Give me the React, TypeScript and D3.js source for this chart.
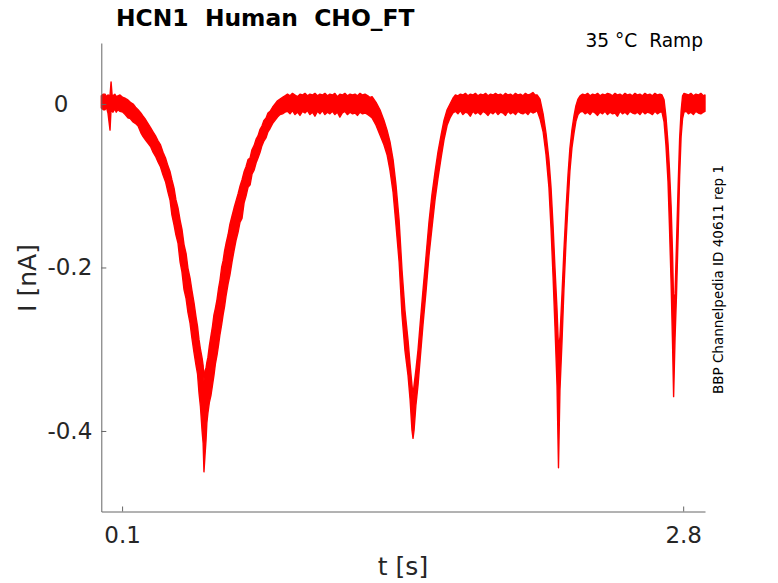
import { useEffect, useRef } from "react"
import * as d3 from "d3"

// each sample: [time (s), upper edge of noisy trace (nA), lower edge (nA)]
type Sample = [number, number, number]

const restStart: Sample[] = [
  [0.0, 0.01, -0.005], [0.01, 0.012, -0.007], [0.018, 0.012, -0.007], [0.025, 0.009, -0.004],
  [0.032, 0.011, -0.011], [0.042, 0.01, -0.032], [0.047, 0.027, -0.006], [0.052, 0.011, -0.009],
  [0.056, 0.01, -0.01], [0.065, 0.012, -0.006], [0.072, 0.009, -0.01], [0.08, 0.01, -0.007],
  [0.09, 0.011, -0.009], [0.104, 0.008, -0.01], [0.115, 0.007, -0.013],
]

const dip1: Sample[] = [
  [0.128, 0.005, -0.017], [0.14, 0.002, -0.018], [0.153, 0.0, -0.022], [0.165, -0.004, -0.024],
  [0.177, -0.007, -0.027], [0.19, -0.011, -0.035], [0.201, -0.015, -0.04], [0.213, -0.019, -0.044],
  [0.225, -0.024, -0.048], [0.237, -0.029, -0.052], [0.249, -0.034, -0.059], [0.261, -0.039, -0.064],
  [0.273, -0.045, -0.071], [0.285, -0.05, -0.077], [0.297, -0.059, -0.087], [0.309, -0.066, -0.095],
  [0.321, -0.076, -0.108], [0.331, -0.083, -0.118], [0.34, -0.093, -0.136], [0.35, -0.103, -0.148],
  [0.359, -0.117, -0.16], [0.369, -0.127, -0.17], [0.379, -0.142, -0.193], [0.388, -0.153, -0.205],
  [0.398, -0.172, -0.227], [0.408, -0.183, -0.238], [0.417, -0.201, -0.255], [0.427, -0.213, -0.268],
  [0.436, -0.228, -0.286], [0.446, -0.243, -0.304], [0.456, -0.261, -0.32], [0.463, -0.272, -0.33],
  [0.47, -0.288, -0.353], [0.477, -0.3, -0.37], [0.485, -0.311, -0.4], [0.49, -0.32, -0.415],
  [0.494, -0.339, -0.45], [0.499, -0.326, -0.43], [0.504, -0.323, -0.411], [0.508, -0.316, -0.39],
  [0.513, -0.31, -0.378], [0.52, -0.296, -0.365], [0.528, -0.283, -0.356], [0.535, -0.272, -0.344],
  [0.542, -0.258, -0.332], [0.549, -0.25, -0.318], [0.557, -0.239, -0.307], [0.564, -0.226, -0.295],
  [0.571, -0.216, -0.282], [0.579, -0.2, -0.27], [0.586, -0.192, -0.258], [0.593, -0.18, -0.248],
  [0.6, -0.171, -0.235], [0.61, -0.16, -0.22], [0.619, -0.147, -0.209], [0.629, -0.137, -0.193],
  [0.639, -0.127, -0.179], [0.648, -0.119, -0.167], [0.658, -0.11, -0.157], [0.667, -0.101, -0.145],
  [0.677, -0.093, -0.14], [0.687, -0.083, -0.121], [0.696, -0.077, -0.113], [0.706, -0.068, -0.102],
  [0.716, -0.066, -0.099], [0.725, -0.056, -0.086], [0.735, -0.051, -0.081], [0.745, -0.043, -0.072],
  [0.754, -0.039, -0.066], [0.764, -0.031, -0.059], [0.773, -0.027, -0.051], [0.783, -0.02, -0.045],
  [0.793, -0.017, -0.041], [0.802, -0.011, -0.034], [0.812, -0.009, -0.03], [0.824, -0.004, -0.024],
  [0.836, 0.0, -0.02], [0.848, 0.004, -0.016], [0.86, 0.006, -0.013], [0.872, 0.008, -0.012],
  [0.884, 0.01, -0.01],
]

const rest1: Sample[] = [
  [0.896, 0.012, -0.009], [0.908, 0.01, -0.012], [0.92, 0.013, -0.008], [0.932, 0.011, -0.013],
  [0.944, 0.009, -0.01], [0.956, 0.012, -0.014], [0.968, 0.011, -0.009], [0.98, 0.013, -0.011],
  [0.992, 0.01, -0.008], [1.004, 0.012, -0.013], [1.016, 0.011, -0.01], [1.028, 0.013, -0.015],
  [1.04, 0.01, -0.009], [1.052, 0.012, -0.012], [1.064, 0.011, -0.008], [1.076, 0.013, -0.013],
  [1.088, 0.01, -0.01], [1.1, 0.012, -0.012], [1.112, 0.011, -0.009], [1.124, 0.013, -0.013],
  [1.136, 0.009, -0.01], [1.148, 0.012, -0.016], [1.16, 0.011, -0.011], [1.172, 0.013, -0.009],
  [1.184, 0.01, -0.013], [1.197, 0.012, -0.01], [1.209, 0.011, -0.012], [1.221, 0.012, -0.011],
  [1.233, 0.01, -0.014], [1.245, 0.013, -0.01], [1.257, 0.011, -0.012], [1.269, 0.012, -0.011],
  [1.283, 0.01, -0.013], [1.293, 0.008, -0.015],
]

const dip2: Sample[] = [
  [1.303, 0.009, -0.017], [1.322, 0.002, -0.026], [1.341, -0.007, -0.038], [1.36, -0.02, -0.05],
  [1.375, -0.032, -0.062], [1.389, -0.046, -0.081], [1.404, -0.068, -0.108], [1.418, -0.099, -0.148],
  [1.433, -0.142, -0.193], [1.447, -0.203, -0.258], [1.461, -0.252, -0.301], [1.476, -0.289, -0.332],
  [1.486, -0.319, -0.362], [1.495, -0.344, -0.399], [1.5, -0.356, -0.409], [1.505, -0.344, -0.399],
  [1.514, -0.325, -0.368], [1.524, -0.301, -0.344], [1.534, -0.27, -0.313], [1.548, -0.228, -0.27],
  [1.563, -0.185, -0.228], [1.577, -0.144, -0.185], [1.591, -0.111, -0.152], [1.606, -0.083, -0.117],
  [1.62, -0.059, -0.091], [1.635, -0.038, -0.066], [1.649, -0.02, -0.044], [1.664, -0.007, -0.026],
  [1.678, 0.0, -0.017], [1.692, 0.007, -0.011],
]

const rest2: Sample[] = [
  [1.704, 0.011, -0.009], [1.716, 0.01, -0.012], [1.728, 0.012, -0.008], [1.74, 0.011, -0.013],
  [1.752, 0.013, -0.01], [1.764, 0.01, -0.011], [1.776, 0.012, -0.015], [1.788, 0.011, -0.009],
  [1.8, 0.013, -0.012], [1.812, 0.01, -0.01], [1.825, 0.012, -0.013], [1.837, 0.011, -0.009],
  [1.849, 0.013, -0.011], [1.861, 0.01, -0.014], [1.873, 0.012, -0.01], [1.885, 0.011, -0.012],
  [1.897, 0.013, -0.009], [1.909, 0.011, -0.013], [1.921, 0.012, -0.01], [1.933, 0.01, -0.011],
  [1.945, 0.013, -0.014], [1.957, 0.011, -0.009], [1.969, 0.012, -0.012], [1.981, 0.01, -0.01],
  [1.993, 0.013, -0.013], [2.005, 0.011, -0.009], [2.017, 0.012, -0.011], [2.029, 0.01, -0.012],
  [2.041, 0.013, -0.01], [2.053, 0.011, -0.013], [2.065, 0.012, -0.009], [2.077, 0.014, -0.011],
  [2.087, 0.011, -0.01], [2.097, 0.011, -0.008],
]

const dip3: Sample[] = [
  [2.111, 0.006, -0.018], [2.126, -0.012, -0.034], [2.14, -0.036, -0.062], [2.154, -0.068, -0.102],
  [2.164, -0.102, -0.152], [2.174, -0.15, -0.212], [2.183, -0.2, -0.272], [2.193, -0.252, -0.345],
  [2.2, -0.3, -0.445], [2.207, -0.285, -0.35], [2.217, -0.232, -0.29], [2.226, -0.18, -0.228],
  [2.236, -0.13, -0.17], [2.246, -0.086, -0.122], [2.255, -0.054, -0.082], [2.265, -0.031, -0.053],
  [2.275, -0.014, -0.035], [2.284, -0.002, -0.021], [2.294, 0.006, -0.013], [2.304, 0.01, -0.01],
]

const rest3: Sample[] = [
  [2.316, 0.012, -0.009], [2.328, 0.011, -0.012], [2.34, 0.013, -0.01], [2.352, 0.01, -0.013],
  [2.364, 0.012, -0.009], [2.376, 0.011, -0.011], [2.388, 0.013, -0.014], [2.4, 0.01, -0.01],
  [2.412, 0.012, -0.012], [2.424, 0.011, -0.009], [2.436, 0.013, -0.013], [2.448, 0.012, -0.01],
  [2.46, 0.01, -0.012], [2.472, 0.013, -0.011], [2.484, 0.011, -0.015], [2.496, 0.012, -0.009],
  [2.508, 0.01, -0.012], [2.52, 0.013, -0.01], [2.532, 0.011, -0.013], [2.544, 0.012, -0.009],
  [2.556, 0.01, -0.011], [2.568, 0.013, -0.012], [2.58, 0.011, -0.01], [2.592, 0.012, -0.013],
  [2.604, 0.01, -0.009], [2.616, 0.013, -0.012], [2.628, 0.011, -0.01], [2.64, 0.012, -0.011],
  [2.652, 0.01, -0.013], [2.664, 0.013, -0.009], [2.676, 0.011, -0.012], [2.688, 0.012, -0.01],
  [2.698, 0.011, -0.01],
]

const dip4: Sample[] = [
  [2.708, 0.005, -0.022], [2.717, -0.015, -0.05], [2.727, -0.048, -0.095], [2.734, -0.08, -0.15],
  [2.742, -0.125, -0.22], [2.749, -0.185, -0.295], [2.754, -0.245, -0.358], [2.761, -0.232, -0.285],
  [2.768, -0.17, -0.232], [2.776, -0.098, -0.158], [2.783, -0.042, -0.088], [2.79, -0.009, -0.04],
  [2.797, 0.01, -0.018], [2.804, 0.013, -0.01],
]

const restEnd: Sample[] = [
  [2.815, 0.012, -0.009], [2.825, 0.011, -0.012], [2.837, 0.013, -0.01], [2.849, 0.01, -0.013],
  [2.861, 0.012, -0.009], [2.873, 0.011, -0.011], [2.885, 0.013, -0.012], [2.897, 0.01, -0.01],
  [2.905, 0.011, -0.009],
]

const xTicks = [0.1, 2.8]
const yTicks = [-0.4, -0.2, 0]
const xDomain: [number, number] = [0, 2.905]
const yDomain: [number, number] = [-0.4985, 0.0746]

const FONT = "'DejaVu Sans', Verdana, sans-serif"

export default function App() {
  const svgRef = useRef<SVGSVGElement>(null)

  useEffect(() => {
    if (!svgRef.current) return

    const trace = [
      ...restStart, ...dip1, ...rest1, ...dip2, ...rest2,
      ...dip3, ...rest3, ...dip4, ...restEnd,
    ]

    d3.select(svgRef.current).selectAll("*").remove()

    const W = 778
    const H = 583
    const margin = { top: 43, right: 73, bottom: 71.5, left: 101.3 }

    const svg = d3.select(svgRef.current).attr("width", W).attr("height", H)

    const x = d3.scaleLinear().domain(xDomain).range([margin.left, W - margin.right])
    const y = d3.scaleLinear().domain(yDomain).range([H - margin.bottom, margin.top])

    // the recorded current: drawn as its noise envelope
    const area = d3
      .area<Sample>()
      .x((d) => x(d[0]))
      .y0((d) => y(d[2]))
      .y1((d) => y(d[1]))

    svg
      .append("path")
      .datum(trace)
      .attr("d", area)
      .attr("fill", "#ff0000")
      .attr("stroke", "#ff0000")
      .attr("stroke-width", 1.4)
      .attr("stroke-linejoin", "round")

    // plain hyphen minus like MATLAB
    const fmt = (d: d3.NumberValue) => String(+d)

    // axes, MATLAB style: ticks inside, box off
    const yAxis = svg
      .append("g")
      .attr("transform", `translate(${margin.left},0)`)
      .call(d3.axisLeft(y).tickValues(yTicks).tickSize(-5).tickSizeOuter(0).tickPadding(9).tickFormat(fmt))

    const xAxis = svg
      .append("g")
      .attr("transform", `translate(0,${H - margin.bottom})`)
      .call(d3.axisBottom(x).tickValues(xTicks).tickSize(-5).tickSizeOuter(0).tickPadding(15).tickFormat(fmt))

    for (const g of [xAxis, yAxis]) {
      g.attr("font-family", FONT).attr("font-size", 23)
      g.select(".domain").attr("stroke", "#666").attr("stroke-width", 1)
      g.selectAll(".tick line").attr("stroke", "#666")
      g.selectAll(".tick text").attr("fill", "#262626")
    }
    yAxis
      .selectAll<SVGTextElement, number>(".tick text")
      .filter((d) => d === 0)
      .attr("x", -33)

    // labels
    svg
      .append("text")
      .attr("transform", "translate(36,278) rotate(-90)")
      .attr("text-anchor", "middle")
      .attr("font-family", FONT)
      .attr("font-size", 25)
      .attr("fill", "#262626")
      .text("I [nA]")

    svg
      .append("text")
      .attr("x", 403)
      .attr("y", 575)
      .attr("text-anchor", "middle")
      .attr("font-family", FONT)
      .attr("font-size", 25)
      .attr("fill", "#262626")
      .text("t [s]")

    svg
      .append("text")
      .attr("x", 116)
      .attr("y", 26)
      .attr("font-family", FONT)
      .attr("font-size", 23.4)
      .attr("font-weight", "bold")
      .attr("fill", "#000")
      .style("white-space", "pre")
      .text("HCN1  Human  CHO_FT")

    svg
      .append("text")
      .attr("x", 703)
      .attr("y", 47)
      .attr("text-anchor", "end")
      .attr("font-family", FONT)
      .attr("font-size", 18.6)
      .attr("fill", "#000")
      .style("white-space", "pre")
      .text("35 °C  Ramp")

    svg
      .append("text")
      .attr("transform", "translate(723,279.5) rotate(-90)")
      .attr("text-anchor", "middle")
      .attr("font-family", FONT)
      .attr("font-size", 13.5)
      .attr("fill", "#000")
      .text("BBP Channelpedia ID 40611 rep 1")
  }, [])

  return (
    <svg
      ref={svgRef}
      style={{ position: "absolute", left: 0, top: 0, background: "#fff" }}
    />
  )
}
